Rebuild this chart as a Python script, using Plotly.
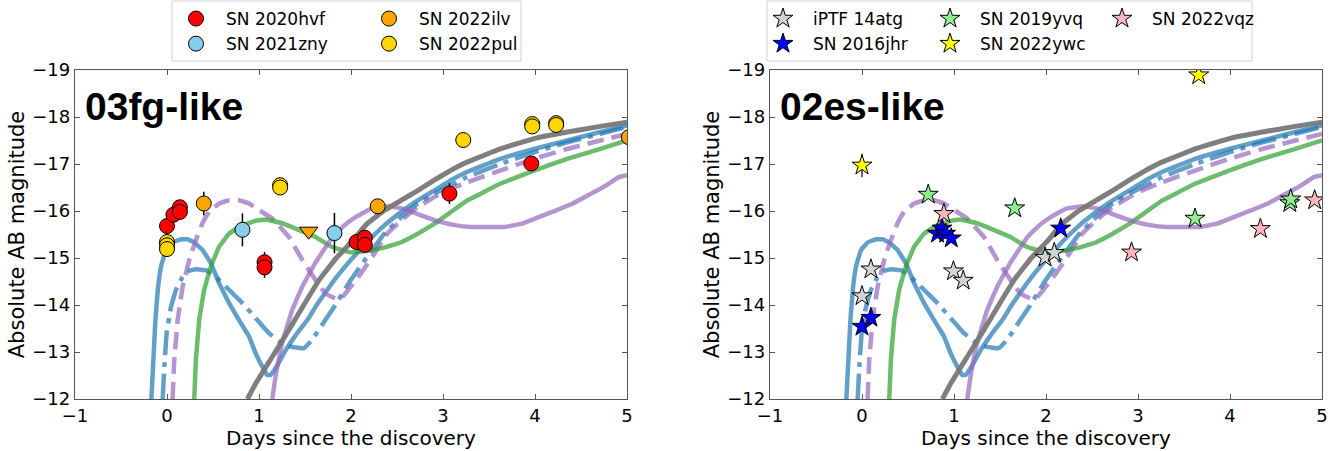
import plotly.graph_objects as go

# ---------------- model light curves (days since discovery, absolute AB mag)
blue_solid_d = [-0.17, -0.148, -0.126, -0.10, -0.065, -0.011, 0.061, 0.152, 0.224, 0.296, 0.386, 0.477,
                0.567, 0.675, 0.783, 0.892, 0.964, 1.036, 1.09, 1.126, 1.20, 1.29, 1.40, 1.54, 1.63, 1.81,
                1.99, 2.17, 2.36, 2.54, 2.72, 2.90, 3.08, 3.26, 3.62, 3.99, 4.35, 4.71, 5.0]
blue_solid_m = [-12.0, -12.83, -13.68, -14.32, -14.82, -15.17, -15.33, -15.40, -15.40, -15.33, -15.17, -14.89,
                -14.46, -14.04, -13.68, -13.33, -12.97, -12.69, -12.51, -12.51, -12.72, -13.04, -13.36, -13.72,
                -14.01, -14.51, -14.94, -15.33, -15.69, -15.97, -16.22, -16.43, -16.65, -16.83, -17.11, -17.32,
                -17.50, -17.68, -17.82]

blue_dashdot_d = [-0.047, -0.029, -0.004, 0.043, 0.097, 0.170, 0.242, 0.314, 0.422, 0.53, 0.675, 0.82, 0.964,
                  1.108, 1.25, 1.36, 1.487, 1.578, 1.72, 1.81, 1.99, 2.17, 2.36, 2.54, 2.72, 2.90, 3.08, 3.26,
                  3.62, 3.99, 4.35, 4.71, 5.0]
blue_dashdot_m = [-12.0, -12.69, -13.40, -13.96, -14.32, -14.60, -14.73, -14.76, -14.74, -14.60, -14.32, -14.04,
                  -13.72, -13.40, -13.18, -13.11, -13.08, -13.26, -13.68, -13.94, -14.51, -15.01, -15.51, -15.86,
                  -16.15, -16.36, -16.54, -16.72, -17.00, -17.25, -17.46, -17.64, -17.79]

purple_dash_d = [0.061, 0.079, 0.116, 0.17, 0.242, 0.314, 0.386, 0.458, 0.567, 0.675, 0.783, 0.892, 1.0, 1.144,
                 1.325, 1.47, 1.614, 1.72, 1.83, 1.90, 1.97, 2.10, 2.25, 2.39, 2.54, 2.72, 2.90, 3.08, 3.26,
                 3.62, 3.99, 4.35, 4.71, 5.0]
purple_dash_m = [-12.0, -12.83, -13.68, -14.39, -14.96, -15.38, -15.74, -15.99, -16.16, -16.23, -16.23, -16.16,
                 -16.02, -15.84, -15.45, -14.96, -14.53, -14.25, -14.14, -14.16, -14.32, -14.65, -15.08, -15.51,
                 -15.79, -16.08, -16.29, -16.47, -16.61, -16.86, -17.11, -17.32, -17.50, -17.64]

green_d = [0.296, 0.314, 0.35, 0.404, 0.477, 0.567, 0.675, 0.82, 0.964, 1.072, 1.25, 1.43, 1.61, 1.79, 1.99,
           2.17, 2.36, 2.54, 2.72, 2.90, 3.08, 3.26, 3.44, 3.62, 3.99, 4.35, 4.71, 5.0]
green_m = [-12.0, -12.83, -13.68, -14.32, -14.82, -15.24, -15.52, -15.70, -15.79, -15.82, -15.74, -15.60, -15.45,
           -15.24, -15.12, -15.15, -15.22, -15.33, -15.51, -15.72, -15.97, -16.22, -16.40, -16.58, -16.86,
           -17.11, -17.32, -17.50]

gray_d = [0.874, 0.964, 1.144, 1.325, 1.48, 1.66, 1.84, 2.02, 2.17, 2.36, 2.54, 2.72, 2.90, 3.08, 3.26, 3.62,
          3.99, 4.35, 4.71, 5.0]
gray_m = [-12.0, -12.33, -12.90, -13.47, -13.98, -14.55, -15.00, -15.37, -15.72, -16.01, -16.22, -16.43, -16.65,
          -16.86, -17.04, -17.32, -17.54, -17.68, -17.80, -17.89]

purple_solid_d = [1.144, 1.18, 1.25, 1.36, 1.47, 1.61, 1.68, 1.80, 1.93, 2.05, 2.22, 2.41, 2.59, 2.77, 2.95,
                  3.13, 3.31, 3.67, 3.86, 4.04, 4.40, 4.76, 4.91, 5.0]
purple_solid_m = [-12.0, -12.48, -13.18, -13.89, -14.39, -14.89, -15.10, -15.45, -15.70, -15.87, -16.05, -16.10,
                  -16.04, -15.90, -15.78, -15.70, -15.66, -15.66, -15.73, -15.87, -16.15, -16.53, -16.72, -16.76]

# ---------------- 03fg-like observations
hvf_d = [0.0, 0.07, 0.14, 0.14, 1.06, 1.06, 2.06, 2.15, 2.15, 3.07, 3.96]
hvf_m = [-15.68, -15.92, -16.08, -15.98, -14.91, -14.80, -15.34, -15.43, -15.28, -16.37, -17.01]
hvf_e = [0.05, 0.05, 0.05, 0.05, 0.22, 0.22, 0.12, 0.12, 0.12, 0.22, 0.05]

zny_d = [0.82, 1.82]
zny_m = [-15.60, -15.53]
zny_e = [0.35, 0.43]

ilv_d = [0.40, 2.29, 5.02]
ilv_m = [-16.16, -16.10, -17.57]
ilv_e = [0.25, 0.05, 0.05]
ilv_lim_d = [1.54]
ilv_lim_m = [-15.57]

pul_d = [0.0, 0.0, 0.0, 1.23, 1.23, 3.22, 3.97, 3.97, 4.23, 4.23]
pul_m = [-15.34, -15.27, -15.19, -16.55, -16.50, -17.51, -17.85, -17.80, -17.87, -17.83]

# ---------------- 02es-like observations
atg_d = [0.0, 0.097, 0.994, 1.10, 1.99, 2.09]
atg_m = [-14.19, -14.76, -14.72, -14.52, -15.01, -15.11]

jhr_d = [0.0, 0.097, 0.82, 0.87, 0.91, 0.97, 2.16]
jhr_m = [-13.54, -13.73, -15.52, -15.63, -15.52, -15.42, -15.63]

yvq_d = [0.72, 1.66, 3.62, 4.65, 4.66]
yvq_m = [-16.35, -16.06, -15.84, -16.17, -16.25]

ywc_d = [0.0, 3.66]
ywc_m = [-16.97, -18.89]
ywc_e = [0.25, 0.05]

vqz_d = [0.89, 2.93, 4.33, 4.92]
vqz_m = [-15.94, -15.12, -15.62, -16.23]

x_ticks = [-1, 0, 1, 2, 3, 4, 5]
y_ticks = [-19, -18, -17, -16, -15, -14, -13, -12]

W, H = 1344, 451
fig = go.Figure()

models = [
    (blue_solid_d, blue_solid_m, "rgba(31,119,180,0.7)", "solid", 4.5),
    (blue_dashdot_d, blue_dashdot_m, "rgba(31,119,180,0.7)", "25px,7px,5px,7px", 4.5),
    (purple_dash_d, purple_dash_m, "rgba(148,103,189,0.7)", "17px,8px", 4.5),
    (green_d, green_m, "rgba(44,160,44,0.7)", "solid", 4.5),
    (purple_solid_d, purple_solid_m, "rgba(148,103,189,0.7)", "solid", 4.5),
    (gray_d, gray_m, "rgba(120,120,120,0.95)", "solid", 5),
]
for ax in ["", "2"]:
    for d, m, c, dash, w in models:
        fig.add_trace(go.Scatter(x=d, y=m, mode="lines", xaxis="x" + ax, yaxis="y" + ax,
                                 line=dict(color=c, width=w, dash=dash, shape="spline", smoothing=0.2),
                                 showlegend=False, hoverinfo="skip"))

def circ(d, m, e, color, name, legend):
    fig.add_trace(go.Scatter(x=d, y=m, mode="markers", name=name, legend=legend,
                             error_y=dict(type="data", array=e, color="black", thickness=1.5, width=0) if e else None,
                             marker=dict(symbol="circle", size=15, color=color, line=dict(color="black", width=1))))

circ(hvf_d, hvf_m, hvf_e, "#ff0000", "SN 2020hvf", "legend")
circ(zny_d, zny_m, zny_e, "#87ceeb", "SN 2021zny", "legend")
circ(ilv_d, ilv_m, ilv_e, "#ffa500", "SN 2022ilv", "legend2")
circ(pul_d, pul_m, None, "#ffd700", "SN 2022pul", "legend2")
fig.add_trace(go.Scatter(x=ilv_lim_d, y=ilv_lim_m, mode="markers", showlegend=False,
                         marker=dict(symbol="triangle-down", size=16, color="#ffa500",
                                     line=dict(color="black", width=1))))

def star(d, m, e, color, name, legend):
    fig.add_trace(go.Scatter(x=d, y=m, mode="markers", name=name, legend=legend, xaxis="x2", yaxis="y2",
                             error_y=dict(type="data", array=e if e else [0.08] * len(d), color="black",
                                          thickness=1.2, width=0),
                             marker=dict(symbol="star", size=15, color=color, line=dict(color="black", width=1))))

star(atg_d, atg_m, None, "#d3d3d3", "iPTF 14atg", "legend3")
star(jhr_d, jhr_m, None, "#0000ff", "SN 2016jhr", "legend3")
star(yvq_d, yvq_m, None, "#90ee90", "SN 2019yvq", "legend4")
star(ywc_d, ywc_m, ywc_e, "#ffff00", "SN 2022ywc", "legend4")
star(vqz_d, vqz_m, None, "#ffb6c1", "SN 2022vqz", "legend5")

tickfont = dict(family="DejaVu Sans", size=18, color="black")
titlefont = dict(family="DejaVu Sans", size=20, color="black")
ytitlefont = dict(family="DejaVu Sans", size=21, color="black")
ydom = [52 / H, 381 / H]

def xaxis(dom, anchor):
    return dict(domain=dom, anchor=anchor, range=[-1, 5], tickvals=x_ticks, ticks="inside", ticklen=5,
                showline=True, linecolor="#555", linewidth=1.3, mirror="ticks", tickcolor="#555",
                showgrid=False, zeroline=False, tickfont=tickfont, automargin=False,
                title=dict(text="Days since the discovery", font=titlefont, standoff=4))

def yaxis(anchor):
    return dict(domain=ydom, anchor=anchor, range=[-12, -19], tickvals=y_ticks, ticks="inside", ticklen=5,
                showline=True, linecolor="#555", linewidth=1.3, mirror="ticks", tickcolor="#555",
                showgrid=False, zeroline=False, tickfont=tickfont, automargin=False,
                title=dict(text="Absolute AB magnitude", font=ytitlefont, standoff=1))

legfont = dict(family="DejaVu Sans", size=17, color="black")
def leg(xpx):
    return dict(x=xpx / W, xanchor="left", y=1 - 1 / H, yanchor="top", orientation="v", itemwidth=50,
                bgcolor="rgba(0,0,0,0)", borderwidth=0, font=legfont, itemclick=False)

fig.update_layout(
    width=W, height=H, margin=dict(l=0, r=0, t=0, b=0),
    paper_bgcolor="white", plot_bgcolor="white",
    xaxis=xaxis([75 / W, 627 / W], "y"), yaxis=yaxis("x"),
    xaxis2=xaxis([770 / W, 1322 / W], "y2"), yaxis2=yaxis("x2"),
    legend=leg(166), legend2=leg(359), legend3=leg(753), legend4=leg(920), legend5=leg(1092),
    showlegend=True,
    shapes=[
        dict(type="rect", xref="paper", yref="paper", x0=172 / W, x1=521 / W, y0=1 - 61 / H, y1=1 - 1 / H,
             line=dict(color="#d0d0d0", width=1), fillcolor="rgba(0,0,0,0)"),
        dict(type="rect", xref="paper", yref="paper", x0=767 / W, x1=1252 / W, y0=1 - 61 / H, y1=1 - 1 / H,
             line=dict(color="#d0d0d0", width=1), fillcolor="rgba(0,0,0,0)"),
    ],
    annotations=[
        dict(text="<b>03fg-like</b>", xref="x domain", yref="y domain", x=8 / 552, y=(399 - 107) / 329,
             xanchor="left", yanchor="middle", showarrow=False,
             font=dict(family="Liberation Sans", size=39, color="black")),
        dict(text="<b>02es-like</b>", xref="x2 domain", yref="y2 domain", x=8 / 552, y=(399 - 107) / 329,
             xanchor="left", yanchor="middle", showarrow=False,
             font=dict(family="Liberation Sans", size=39, color="black")),
    ],
)

fig.write_html("out.html")
